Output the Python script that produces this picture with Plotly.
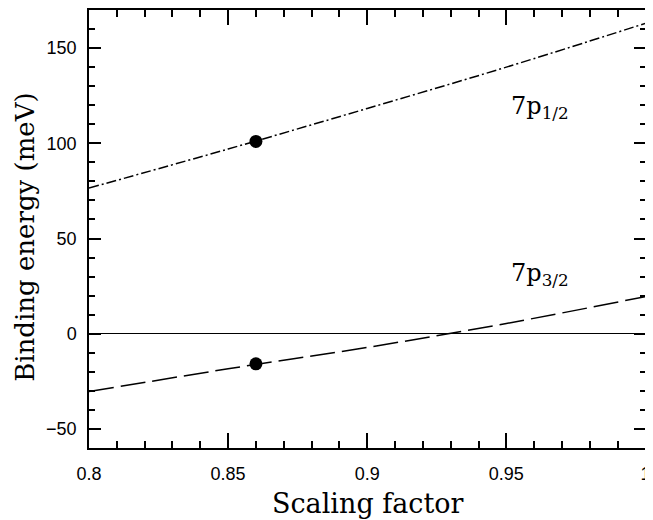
import plotly.graph_objects as go

# Data
x_vals = [0.80, 0.85, 0.90, 0.95, 1.00]
p12_vals = [76.5, 97.0, 118.3, 140.0, 163.0]     # 7p1/2 curve
p32_vals = [-30.4, -18.4, -7.2, 5.4, 19.5]       # 7p3/2 curve
pt_x = [0.86, 0.86]
pt_y = [101.0, -15.8]
label_text = ["7p<sub>1/2</sub>", "7p<sub>3/2</sub>"]
label_x = [0.962, 0.962]
label_y = [119, 31]
x_ticks = [0.8, 0.85, 0.9, 0.95, 1.0]
x_ticktext = ["0.8", "0.85", "0.9", "0.95", "1"]
y_ticks = [-50, 0, 50, 100, 150]

X_RANGE = [0.8, 1.0002]
Y_RANGE = [-60, 170]

fig = go.Figure()
fig.add_trace(go.Scatter(x=x_vals, y=p12_vals, mode="lines", line_shape="spline",
                         line=dict(color="black", width=1.5, dash="10px,3px,2px,3px"),
                         showlegend=False))
fig.add_trace(go.Scatter(x=x_vals, y=p32_vals, mode="lines", line_shape="spline",
                         line=dict(color="black", width=1.5, dash="25px,7px"),
                         showlegend=False))
fig.add_trace(go.Scatter(x=pt_x, y=pt_y, mode="markers",
                         marker=dict(color="black", size=13), showlegend=False))

for t, lx, ly in zip(label_text, label_x, label_y):
    fig.add_annotation(x=lx, y=ly, text=t, showarrow=False,
                       font=dict(family="DejaVu Serif", size=24, color="black"))

tickfont = dict(family="Liberation Sans", size=18, color="black")
titlefont = dict(family="DejaVu Serif", size=26, color="black")

common_x = dict(range=X_RANGE, tickvals=x_ticks, ticks="inside", ticklen=15, tickwidth=1.5,
                tickcolor="black",
                minor=dict(tickvals=[0.8 + 0.01 * i for i in range(21)], ticks="inside",
                           ticklen=7, tickwidth=1.5, tickcolor="black"),
                showline=True, linecolor="black", linewidth=1.5,
                showgrid=False, zeroline=False, automargin=False)
common_y = dict(range=Y_RANGE, tickvals=y_ticks, ticks="inside", ticklen=12, tickwidth=1.5,
                tickcolor="black",
                minor=dict(tickvals=list(range(-60, 171, 10)), ticks="inside",
                           ticklen=6, tickwidth=1.5, tickcolor="black"),
                showline=True, linecolor="black", linewidth=1.5,
                showgrid=False, automargin=False)

fig.update_layout(
    xaxis=dict(**common_x, ticktext=x_ticktext, tickfont=tickfont, ticklabelstandoff=9),
    yaxis=dict(**common_y, zeroline=True, zerolinecolor="black", zerolinewidth=1.3,
               tickfont=tickfont, ticklabelstandoff=7),
    xaxis2=dict(**common_x, overlaying="x", side="top", showticklabels=False),
    yaxis2=dict(**common_y, overlaying="y", side="right", showticklabels=False, zeroline=False),
)
# invisible trace to activate the mirrored axes
fig.add_trace(go.Scatter(x=[x_vals[0]], y=[p12_vals[0]], xaxis="x2", yaxis="y2",
                         mode="markers", marker=dict(opacity=0), showlegend=False,
                         hoverinfo="skip"))

fig.add_annotation(text="Scaling factor", xref="paper", yref="paper", x=0.5, y=-0.126,
                   showarrow=False, font=dict(family="DejaVu Serif", size=27, color="black"),
                   yanchor="middle")
fig.add_annotation(text="Binding energy (meV)", xref="paper", yref="paper", x=-0.115, y=0.482,
                   showarrow=False, font=titlefont, textangle=-90, xanchor="center",
                   yanchor="middle")

# the page body adds an 8px offset, so the figure is sized to fit the 653x520 window
fig.update_layout(width=645, height=512, margin=dict(l=81, r=7, t=2, b=72),
                  paper_bgcolor="white", plot_bgcolor="white")

fig.write_html("out.html")
